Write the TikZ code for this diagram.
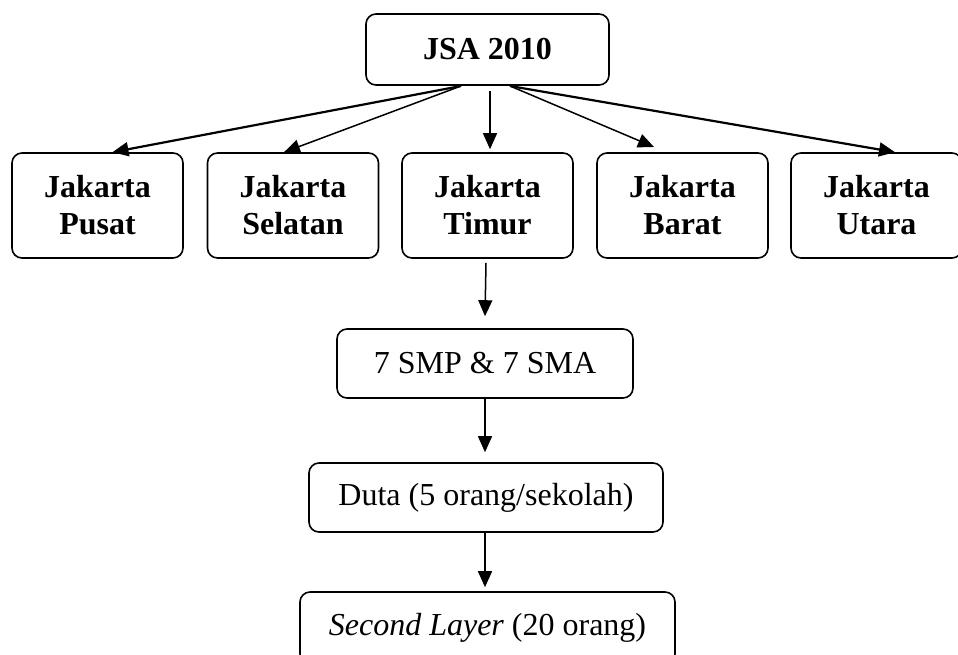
\documentclass[tikz,border=0pt]{standalone}
\usepackage{fontspec}
\setmainfont{Liberation Serif}
\usetikzlibrary{arrows.meta}
\begin{document}
\begin{tikzpicture}[x=1pt,y=-1pt,
  box/.style={draw=black, line width=1.6pt, fill=white, rounded corners=10pt, inner sep=0pt, align=center, font=\fontsize{32}{37}\selectfont},
  city/.style={box, minimum width=171pt, minimum height=105pt, font=\bfseries\fontsize{32}{37}\selectfont},
  arr/.style={-{Triangle[length=16pt,width=14pt]}, line width=1.5pt},
  tarr/.style={-{Triangle[length=16pt,width=14pt]}, line width=2.2pt}]
\useasboundingbox (0,0) rectangle (958,654);
\node[box, minimum width=243pt, minimum height=71pt, font=\bfseries\fontsize{32}{37}\selectfont] (jsa) at (487.5,49.5) {JSA 2010};
\node[city] (pusat) at (97.5,205.5) {Jakarta\\Pusat};
\node[city] (selatan) at (293,205.5) {Jakarta\\Selatan};
\node[city] (timur) at (487.5,205.5) {Jakarta\\Timur};
\node[city] (barat) at (682.5,205.5) {Jakarta\\Barat};
\node[city] (utara) at (876.5,205.5) {Jakarta\\Utara};
\node[box, minimum width=296pt, minimum height=69pt] (smp) at (485,363.5) {7 SMP \& 7 SMA};
\node[box, minimum width=354pt, minimum height=69pt] (duta) at (486,497.5) {Duta (5 orang/sekolah)};
\node[box, minimum width=375pt, minimum height=72pt] (second) at (487.5,628) {\textit{Second Layer} (20 orang)};
\coordinate (sl) at (461,86);
\coordinate (sr) at (510,86);
\coordinate (bt) at (654,147);
\draw[tarr] (sl) -- ([xshift=15pt]pusat.north);
\draw[arr] (sl) -- ([xshift=-9pt]selatan.north);
\draw[arr] ([xshift=2.5pt,yshift=-5pt]jsa.south) -- ([xshift=2.5pt,yshift=3pt]timur.north);
\draw[arr] (sr) -- (bt);
\draw[tarr] (sr) -- ([xshift=18.5pt]utara.north);
\draw[arr] ([xshift=-1.5pt,yshift=-4pt]timur.south) -- ([yshift=12pt]smp.north);
\draw[arr] (smp.south) -- ([xshift=-1pt,yshift=10pt]duta.north);
\draw[arr] ([xshift=-1pt]duta.south) -- ([xshift=-2.5pt,yshift=4pt]second.north);
\end{tikzpicture}
\end{document}
